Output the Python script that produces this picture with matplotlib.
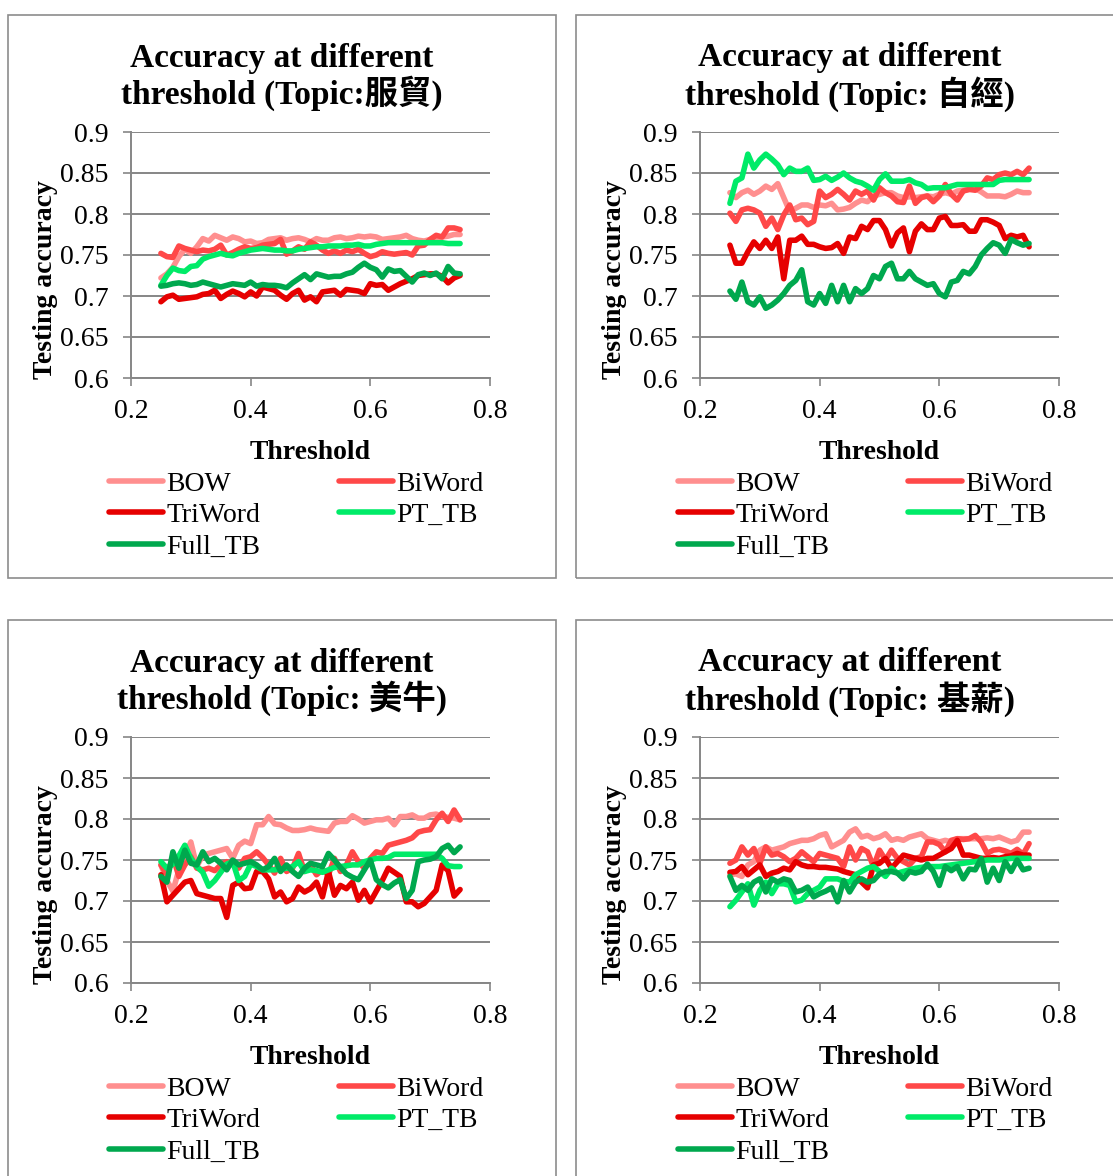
import numpy as np
import matplotlib
matplotlib.use('Agg')
import matplotlib.pyplot as plt
from matplotlib.patches import Rectangle

plt.rcParams['font.family'] = ['Liberation Serif', 'Noto Sans CJK TC']

# threshold axis: 0.25 .. 0.75 in steps of 0.01
threshold = np.round(np.arange(0.25, 0.7501, 0.01), 2)

series_names = ['BOW', 'BiWord', 'TriWord', 'PT_TB', 'Full_TB']
topics = ['Topic:服貿', 'Topic: 自經', 'Topic: 美牛', 'Topic: 基薪']

# ---- Topic 1 ----
p1_bow = [0.722, 0.727, 0.735, 0.748, 0.757, 0.752, 0.760, 0.770, 0.767, 0.774,
          0.771, 0.768, 0.772, 0.770, 0.766, 0.767, 0.764, 0.765, 0.769, 0.770,
          0.771, 0.768, 0.770, 0.771, 0.769, 0.766, 0.770, 0.768, 0.768, 0.771,
          0.772, 0.770, 0.771, 0.773, 0.772, 0.773, 0.772, 0.769, 0.770, 0.771,
          0.772, 0.774, 0.770, 0.768, 0.767, 0.769, 0.771, 0.772, 0.773, 0.775,
          0.775]
p1_biword = [0.752, 0.748, 0.747, 0.761, 0.758, 0.756, 0.754, 0.756, 0.755, 0.757,
             0.762, 0.750, 0.753, 0.757, 0.760, 0.758, 0.759, 0.762, 0.763, 0.764,
             0.769, 0.751, 0.755, 0.760, 0.757, 0.766, 0.762, 0.756, 0.752, 0.755,
             0.752, 0.756, 0.754, 0.757, 0.752, 0.748, 0.750, 0.754, 0.752, 0.751,
             0.752, 0.753, 0.750, 0.761, 0.762, 0.769, 0.774, 0.772, 0.783, 0.783,
             0.781]
p1_triword = [0.693, 0.699, 0.701, 0.696, 0.697, 0.698, 0.699, 0.702, 0.703, 0.707,
              0.697, 0.702, 0.706, 0.703, 0.699, 0.705, 0.700, 0.711, 0.709, 0.707,
              0.701, 0.696, 0.703, 0.707, 0.695, 0.699, 0.693, 0.705, 0.706, 0.707,
              0.701, 0.708, 0.707, 0.706, 0.703, 0.715, 0.713, 0.714, 0.707, 0.711,
              0.715, 0.718, 0.721, 0.725, 0.726, 0.727, 0.727, 0.724, 0.716, 0.722,
              0.725]
p1_pt_tb = [0.713, 0.725, 0.734, 0.731, 0.730, 0.736, 0.737, 0.745, 0.748, 0.750,
            0.752, 0.750, 0.749, 0.752, 0.754, 0.756, 0.757, 0.758, 0.757, 0.756,
            0.756, 0.755, 0.755, 0.757, 0.758, 0.759, 0.760, 0.760, 0.761, 0.761,
            0.761, 0.762, 0.762, 0.763, 0.761, 0.761, 0.763, 0.764, 0.765, 0.765,
            0.765, 0.765, 0.765, 0.765, 0.765, 0.765, 0.765, 0.765, 0.764, 0.764,
            0.764]
p1_full_tb = [0.712, 0.713, 0.715, 0.716, 0.715, 0.713, 0.714, 0.717, 0.715, 0.713,
              0.711, 0.713, 0.715, 0.714, 0.713, 0.717, 0.712, 0.714, 0.713, 0.713,
              0.712, 0.710, 0.716, 0.721, 0.726, 0.720, 0.727, 0.725, 0.723, 0.724,
              0.724, 0.727, 0.729, 0.735, 0.740, 0.735, 0.732, 0.723, 0.733, 0.730,
              0.731, 0.724, 0.717, 0.726, 0.728, 0.725, 0.728, 0.721, 0.736, 0.728,
              0.727]

# ---- Topic 2 ----
p2_bow = [0.826, 0.820, 0.826, 0.829, 0.824, 0.828, 0.834, 0.830, 0.837, 0.820,
          0.803, 0.807, 0.811, 0.811, 0.808, 0.811, 0.810, 0.813, 0.805, 0.806,
          0.808, 0.813, 0.817, 0.815, 0.822, 0.824, 0.826, 0.826, 0.822, 0.820,
          0.821, 0.820, 0.821, 0.822, 0.821, 0.824, 0.826, 0.824, 0.828, 0.829,
          0.830, 0.831, 0.827, 0.822, 0.822, 0.822, 0.821, 0.824, 0.828, 0.826,
          0.826]
p2_biword = [0.801, 0.791, 0.805, 0.807, 0.805, 0.801, 0.785, 0.795, 0.781, 0.799,
             0.811, 0.793, 0.795, 0.787, 0.791, 0.828, 0.820, 0.824, 0.830, 0.824,
             0.817, 0.828, 0.824, 0.828, 0.817, 0.832, 0.826, 0.822, 0.815, 0.814,
             0.834, 0.813, 0.820, 0.822, 0.815, 0.822, 0.836, 0.824, 0.817, 0.828,
             0.830, 0.829, 0.834, 0.844, 0.842, 0.848, 0.850, 0.848, 0.852, 0.848,
             0.856]
p2_triword = [0.762, 0.740, 0.740, 0.754, 0.766, 0.758, 0.768, 0.758, 0.772, 0.721,
              0.768, 0.768, 0.773, 0.763, 0.763, 0.760, 0.758, 0.759, 0.764, 0.752,
              0.772, 0.770, 0.785, 0.781, 0.792, 0.792, 0.781, 0.761, 0.777, 0.783,
              0.754, 0.779, 0.788, 0.781, 0.781, 0.795, 0.797, 0.786, 0.786, 0.787,
              0.779, 0.779, 0.793, 0.793, 0.790, 0.786, 0.770, 0.774, 0.772, 0.774,
              0.760]
p2_pt_tb = [0.813, 0.840, 0.844, 0.873, 0.856, 0.866, 0.873, 0.867, 0.860, 0.848,
            0.856, 0.852, 0.852, 0.856, 0.841, 0.842, 0.846, 0.841, 0.845, 0.850,
            0.844, 0.840, 0.838, 0.834, 0.829, 0.842, 0.849, 0.840, 0.840, 0.840,
            0.842, 0.838, 0.836, 0.831, 0.832, 0.832, 0.832, 0.834, 0.836, 0.836,
            0.836, 0.836, 0.836, 0.836, 0.836, 0.841, 0.842, 0.842, 0.842, 0.842,
            0.842]
p2_full_tb = [0.706, 0.696, 0.717, 0.693, 0.689, 0.699, 0.685, 0.689, 0.695, 0.703,
              0.713, 0.719, 0.732, 0.693, 0.689, 0.703, 0.691, 0.713, 0.693, 0.713,
              0.693, 0.709, 0.703, 0.709, 0.725, 0.721, 0.736, 0.740, 0.721, 0.721,
              0.730, 0.721, 0.717, 0.713, 0.715, 0.703, 0.699, 0.717, 0.719, 0.730,
              0.727, 0.736, 0.750, 0.758, 0.765, 0.762, 0.752, 0.769, 0.765, 0.762,
              0.764]

# ---- Topic 3 ----
p3_bow = [0.744, 0.725, 0.712, 0.738, 0.755, 0.772, 0.742, 0.756, 0.758, 0.760,
          0.762, 0.764, 0.752, 0.768, 0.773, 0.770, 0.793, 0.793, 0.803, 0.794,
          0.793, 0.789, 0.786, 0.786, 0.787, 0.789, 0.787, 0.786, 0.785, 0.795,
          0.797, 0.797, 0.804, 0.800, 0.795, 0.797, 0.799, 0.799, 0.801, 0.793,
          0.803, 0.803, 0.805, 0.801, 0.801, 0.805, 0.806, 0.803, 0.802, 0.801,
          0.799]
p3_biword = [0.744, 0.732, 0.754, 0.730, 0.744, 0.754, 0.740, 0.738, 0.740, 0.737,
             0.744, 0.748, 0.744, 0.740, 0.752, 0.754, 0.760, 0.753, 0.744, 0.734,
             0.752, 0.736, 0.740, 0.758, 0.736, 0.744, 0.732, 0.738, 0.732, 0.752,
             0.736, 0.744, 0.760, 0.748, 0.740, 0.752, 0.760, 0.758, 0.768, 0.770,
             0.772, 0.774, 0.777, 0.784, 0.786, 0.787, 0.799, 0.807, 0.797, 0.811,
             0.799]
p3_triword = [0.732, 0.699, 0.707, 0.715, 0.723, 0.725, 0.709, 0.707, 0.705, 0.703,
              0.703, 0.680, 0.719, 0.723, 0.715, 0.716, 0.736, 0.736, 0.727, 0.705,
              0.711, 0.699, 0.703, 0.717, 0.711, 0.715, 0.723, 0.705, 0.736, 0.707,
              0.719, 0.715, 0.723, 0.701, 0.713, 0.699, 0.712, 0.725, 0.740, 0.735,
              0.730, 0.699, 0.699, 0.693, 0.697, 0.705, 0.713, 0.744, 0.737, 0.706,
              0.714]
p3_pt_tb = [0.748, 0.740, 0.745, 0.755, 0.768, 0.752, 0.742, 0.735, 0.718, 0.725,
            0.735, 0.745, 0.748, 0.725, 0.730, 0.745, 0.742, 0.738, 0.738, 0.738,
            0.739, 0.740, 0.742, 0.748, 0.736, 0.738, 0.737, 0.735, 0.738, 0.741,
            0.742, 0.743, 0.744, 0.744, 0.748, 0.750, 0.752, 0.752, 0.753, 0.757,
            0.757, 0.757, 0.757, 0.757, 0.757, 0.757, 0.757, 0.752, 0.743, 0.742,
            0.742]
p3_full_tb = [0.730, 0.723, 0.760, 0.740, 0.762, 0.746, 0.744, 0.760, 0.748, 0.752,
              0.746, 0.738, 0.750, 0.744, 0.746, 0.748, 0.744, 0.738, 0.742, 0.752,
              0.736, 0.744, 0.736, 0.730, 0.740, 0.746, 0.744, 0.742, 0.758, 0.750,
              0.741, 0.733, 0.729, 0.726, 0.738, 0.750, 0.726, 0.720, 0.716, 0.722,
              0.726, 0.703, 0.713, 0.748, 0.750, 0.751, 0.754, 0.764, 0.768, 0.759,
              0.766]

# ---- Topic 4 ----
p4_bow = [0.732, 0.733, 0.730, 0.744, 0.748, 0.762, 0.766, 0.762, 0.764, 0.766,
          0.770, 0.772, 0.774, 0.774, 0.776, 0.780, 0.782, 0.766, 0.770, 0.774,
          0.784, 0.788, 0.778, 0.780, 0.776, 0.778, 0.782, 0.774, 0.776, 0.774,
          0.778, 0.780, 0.782, 0.776, 0.774, 0.772, 0.774, 0.772, 0.776, 0.776,
          0.776, 0.776, 0.776, 0.777, 0.776, 0.778, 0.775, 0.772, 0.774, 0.784,
          0.784]
p4_biword = [0.746, 0.750, 0.766, 0.756, 0.764, 0.746, 0.766, 0.756, 0.758, 0.754,
             0.748, 0.752, 0.760, 0.754, 0.748, 0.758, 0.756, 0.754, 0.752, 0.742,
             0.766, 0.750, 0.764, 0.760, 0.742, 0.762, 0.750, 0.762, 0.752, 0.748,
             0.744, 0.752, 0.754, 0.772, 0.772, 0.769, 0.760, 0.774, 0.776, 0.775,
             0.776, 0.780, 0.772, 0.758, 0.762, 0.763, 0.761, 0.758, 0.763, 0.757,
             0.770]
p4_triword = [0.735, 0.736, 0.742, 0.732, 0.738, 0.744, 0.730, 0.734, 0.736, 0.740,
              0.738, 0.748, 0.744, 0.742, 0.742, 0.741, 0.741, 0.740, 0.739, 0.736,
              0.734, 0.732, 0.723, 0.716, 0.744, 0.746, 0.752, 0.740, 0.748, 0.756,
              0.754, 0.752, 0.750, 0.752, 0.752, 0.756, 0.760, 0.764, 0.774, 0.756,
              0.756, 0.754, 0.752, 0.752, 0.753, 0.752, 0.754, 0.755, 0.758, 0.756,
              0.756]
p4_pt_tb = [0.693, 0.701, 0.711, 0.721, 0.695, 0.713, 0.723, 0.709, 0.721, 0.721,
            0.719, 0.699, 0.701, 0.709, 0.713, 0.717, 0.727, 0.727, 0.727, 0.724,
            0.723, 0.732, 0.736, 0.740, 0.742, 0.736, 0.730, 0.740, 0.734, 0.736,
            0.738, 0.740, 0.741, 0.742, 0.742, 0.742, 0.743, 0.744, 0.745, 0.746,
            0.747, 0.748, 0.749, 0.750, 0.750, 0.750, 0.751, 0.752, 0.752, 0.752,
            0.752]
p4_full_tb = [0.730, 0.713, 0.719, 0.713, 0.723, 0.727, 0.711, 0.727, 0.723, 0.727,
              0.725, 0.711, 0.713, 0.717, 0.705, 0.709, 0.712, 0.716, 0.699, 0.725,
              0.711, 0.723, 0.727, 0.723, 0.725, 0.733, 0.736, 0.736, 0.734, 0.727,
              0.736, 0.734, 0.736, 0.745, 0.736, 0.719, 0.742, 0.737, 0.742, 0.727,
              0.739, 0.738, 0.752, 0.723, 0.740, 0.725, 0.748, 0.736, 0.750, 0.738,
              0.740]

panel_data = [
    [p1_bow, p1_biword, p1_triword, p1_pt_tb, p1_full_tb],
    [p2_bow, p2_biword, p2_triword, p2_pt_tb, p2_full_tb],
    [p3_bow, p3_biword, p3_triword, p3_pt_tb, p3_full_tb],
    [p4_bow, p4_biword, p4_triword, p4_pt_tb, p4_full_tb],
]

colors = ['#FF8F8F', '#FF4848', '#E60000', '#00EB68', '#00A84E']
y_ticks = [0.6, 0.65, 0.7, 0.75, 0.8, 0.85, 0.9]
x_ticks = [0.2, 0.4, 0.6, 0.8]
grid_color = '#868686'

W, H = 1113, 1176
fig = plt.figure(figsize=(W / 100, H / 100), dpi=100)

# pixel layout of the four panels: (axes left, axes top, box left, box top, box right, box bottom)
layout = [
    (131, 132, 8, 15, 556, 578),
    (700, 132, 576, 15, 1125, 578),
    (131, 737, 8, 620, 556, 1190),
    (700, 737, 576, 620, 1125, 1190),
]
ax_w, ax_h = 359, 246

for k, (ax_l, ax_t, bx0, by0, bx1, by1) in enumerate(layout):
    # outer chart frame
    fig.patches.append(Rectangle((bx0 / W, 1 - by1 / H), (bx1 - bx0) / W, (by1 - by0) / H,
                                 transform=fig.transFigure, fill=False,
                                 edgecolor='#8c8c8c', linewidth=1.2, clip_on=False))

    ax = fig.add_axes([ax_l / W, 1 - (ax_t + ax_h) / H, ax_w / W, ax_h / H])
    lines = []
    for name, vals, c in zip(series_names, panel_data[k], colors):
        ln, = ax.plot(threshold, vals, color=c, lw=4.0, label=name,
                      solid_joinstyle='round', solid_capstyle='round', zorder=3)
        lines.append(ln)

    ax.set_xlim(0.2, 0.8)
    ax.set_ylim(0.6, 0.9)
    ax.set_xticks(x_ticks)
    ax.set_xticklabels([f'{t:g}' for t in x_ticks])
    ax.set_yticks(y_ticks)
    ax.set_yticklabels([f'{t:g}' for t in y_ticks])
    for t in y_ticks:
        ax.axhline(t, color=grid_color, lw=1.4, zorder=1)
    for side in ['top', 'right']:
        ax.spines[side].set_visible(False)
    for side in ['left', 'bottom']:
        ax.spines[side].set_color(grid_color)
        ax.spines[side].set_linewidth(1.4)
    ax.tick_params(axis='both', colors=grid_color, labelcolor='black', labelsize=20,
                   length=6, width=1.2, direction='out')
    ax.tick_params(axis='x', pad=9)
    ax.tick_params(axis='y', pad=10)

    ax.set_xlabel('Threshold', fontsize=20, fontweight='bold')
    ax.xaxis.set_label_coords(0.5, -0.252)
    ax.set_ylabel('Testing accuracy', fontsize=20, fontweight='bold')
    ax.yaxis.set_label_coords(-0.203, 0.4)

    cx = (bx0 + 274) / W
    fig.text(cx, 1 - (ax_t - 55) / H, f'Accuracy at different\nthreshold ({topics[k]})',
             ha='center', va='center', fontsize=24, fontweight='bold', linespacing=1.08)

    order = [0, 2, 4, 1, 3]
    ax.legend([lines[i] for i in order], [series_names[i] for i in order],
              loc='upper left', bbox_to_anchor=(-0.062, -0.38), ncol=2, frameon=False,
              fontsize=20, handlelength=1.95, handletextpad=0.12, labelspacing=0.21,
              columnspacing=2.82, borderpad=0, borderaxespad=0)

fig.savefig('out.png', dpi=100)
